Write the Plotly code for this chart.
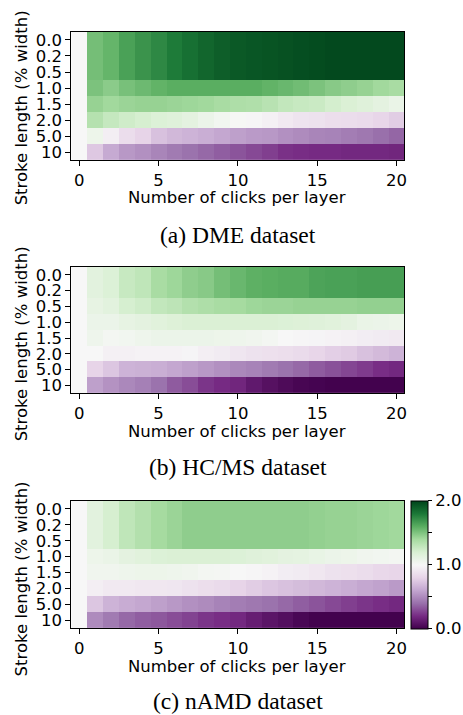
import plotly.graph_objects as go

# ---------------- data ----------------
clicks = list(range(21))
stroke_labels = ["0.0", "0.2", "0.5", "1.0", "1.5", "2.0", "5.0", "10"]
x_ticks = [0, 5, 10, 15, 20]
cbar_ticks = [0, 0.5, 1, 1.5, 2]
cbar_text = ["0.0", "", "1.0", "", "2.0"]
captions = ["(a) DME dataset", "(b) HC/MS dataset", "(c) nAMD dataset"]

dme_top = [1.0, 1.53, 1.57, 1.65, 1.70, 1.74, 1.79, 1.83, 1.87, 1.90, 1.92, 1.93, 1.94, 1.95, 1.96, 1.97, 1.98, 1.98, 1.98, 1.98, 1.98]
dme_z = [
    dme_top,
    dme_top,
    dme_top,
    [1.0, 1.51, 1.47, 1.52, 1.55, 1.58, 1.60, 1.60, 1.60, 1.60, 1.60, 1.60, 1.58, 1.56, 1.54, 1.51, 1.48, 1.46, 1.44, 1.41, 1.39],
    [1.0, 1.44, 1.41, 1.43, 1.44, 1.44, 1.43, 1.42, 1.41, 1.39, 1.37, 1.36, 1.33, 1.29, 1.27, 1.26, 1.22, 1.19, 1.16, 1.13, 1.09],
    [1.0, 1.34, 1.28, 1.24, 1.21, 1.18, 1.16, 1.13, 1.08, 1.04, 1.01, 0.99, 0.96, 0.92, 0.89, 0.88, 0.86, 0.85, 0.84, 0.81, 0.77],
    [1.0, 1.07, 0.95, 0.85, 0.80, 0.72, 0.68, 0.66, 0.64, 0.61, 0.58, 0.56, 0.55, 0.52, 0.50, 0.48, 0.47, 0.45, 0.43, 0.40, 0.37],
    [1.0, 0.75, 0.62, 0.55, 0.52, 0.48, 0.44, 0.41, 0.38, 0.35, 0.32, 0.29, 0.26, 0.22, 0.21, 0.20, 0.20, 0.19, 0.19, 0.19, 0.18],
]

hcms_top = [1.0, 1.14, 1.18, 1.27, 1.30, 1.39, 1.42, 1.46, 1.48, 1.53, 1.56, 1.59, 1.60, 1.61, 1.61, 1.64, 1.65, 1.65, 1.66, 1.66, 1.66]
hcms_z = [
    hcms_top,
    hcms_top,
    [1.0, 1.11, 1.14, 1.21, 1.24, 1.29, 1.31, 1.35, 1.37, 1.39, 1.40, 1.42, 1.43, 1.43, 1.44, 1.44, 1.44, 1.44, 1.45, 1.45, 1.45],
    [1.0, 1.08, 1.08, 1.11, 1.13, 1.15, 1.17, 1.19, 1.19, 1.19, 1.19, 1.19, 1.19, 1.18, 1.17, 1.16, 1.15, 1.13, 1.09, 1.08, 1.07],
    [1.0, 1.06, 1.03, 1.04, 1.06, 1.08, 1.08, 1.08, 1.08, 1.07, 1.06, 1.05, 1.03, 1.00, 0.99, 0.98, 0.97, 0.96, 0.94, 0.93, 0.92],
    [1.0, 1.00, 0.96, 0.96, 0.97, 0.97, 0.97, 0.98, 0.95, 0.93, 0.90, 0.88, 0.87, 0.86, 0.84, 0.81, 0.78, 0.76, 0.72, 0.69, 0.66],
    [1.0, 0.80, 0.74, 0.66, 0.65, 0.64, 0.61, 0.58, 0.55, 0.52, 0.49, 0.47, 0.44, 0.41, 0.38, 0.34, 0.31, 0.28, 0.25, 0.21, 0.19],
    [1.0, 0.58, 0.53, 0.49, 0.46, 0.41, 0.34, 0.30, 0.23, 0.20, 0.18, 0.12, 0.08, 0.05, 0.03, 0.02, 0.01, 0.01, 0.01, 0.01, 0.01],
]

namd_top = [1.0, 1.14, 1.21, 1.30, 1.35, 1.40, 1.43, 1.46, 1.46, 1.46, 1.46, 1.46, 1.46, 1.46, 1.46, 1.45, 1.44, 1.44, 1.43, 1.42, 1.41]
namd_z = [
    namd_top,
    namd_top,
    namd_top,
    [1.0, 1.07, 1.09, 1.13, 1.15, 1.18, 1.19, 1.19, 1.19, 1.19, 1.18, 1.16, 1.15, 1.13, 1.12, 1.10, 1.08, 1.07, 1.05, 1.04, 1.03],
    [1.0, 1.05, 1.05, 1.06, 1.07, 1.07, 1.06, 1.05, 1.03, 1.02, 1.00, 0.99, 0.97, 0.94, 0.93, 0.91, 0.88, 0.87, 0.85, 0.82, 0.81],
    [1.0, 0.95, 0.92, 0.92, 0.91, 0.91, 0.90, 0.88, 0.86, 0.84, 0.80, 0.77, 0.74, 0.72, 0.70, 0.68, 0.66, 0.64, 0.61, 0.59, 0.56],
    [1.0, 0.74, 0.66, 0.63, 0.61, 0.58, 0.55, 0.52, 0.50, 0.47, 0.45, 0.43, 0.41, 0.38, 0.35, 0.32, 0.29, 0.26, 0.23, 0.21, 0.19],
    [1.0, 0.50, 0.44, 0.38, 0.35, 0.33, 0.30, 0.27, 0.23, 0.21, 0.19, 0.14, 0.10, 0.07, 0.035, 0.01, 0.01, 0.01, 0.01, 0.01, 0.01],
]

panels = [dme_z, hcms_z, namd_z]

# ---------------- layout geometry (pixels) ----------------
W, H = 463, 715
x_left, x_right = 72, 408
plot_tops = [31, 267, 502]
plot_bottoms = [160, 394, 630]
ytitle_y = [107, 344, 580]
xtitle_y = [197, 432, 668]
caption_y = [235, 468, 703]

sans = "DejaVu Sans"
serif = "Liberation Serif"
fs = 16.5


def py(p):
    return 1 - p / H


fig = go.Figure()
layout = dict(
    width=W, height=H,
    margin=dict(l=0, r=0, t=0, b=0),
    paper_bgcolor="white", plot_bgcolor="white",
    showlegend=False,
    font=dict(family=sans, size=fs, color="black"),
)
annotations = []

for i, z in enumerate(panels):
    xa = "x" if i == 0 else f"x{i+1}"
    ya = "y" if i == 0 else f"y{i+1}"
    trace = go.Heatmap(
        z=z, x=clicks, y=list(range(len(stroke_labels))),
        zmin=0, zmax=2, colorscale="PRGn",
        xaxis=xa, yaxis=ya,
        showscale=(i == 2),
    )
    if i == 2:
        trace.colorbar = dict(
            x=415 / W, xanchor="left", xpad=0,
            y=py((plot_tops[2] + plot_bottoms[2]) / 2), yanchor="middle", ypad=0,
            len=plot_bottoms[2] - plot_tops[2], lenmode="pixels",
            thickness=17, thicknessmode="pixels",
            outlinewidth=1, outlinecolor="black",
            tickvals=cbar_ticks, ticktext=cbar_text,
            ticks="outside", ticklen=4, tickwidth=1, tickcolor="black",
            tickfont=dict(family=sans, size=fs, color="black"),
        )
    fig.add_trace(trace)

    xkey = "xaxis" if i == 0 else f"xaxis{i+1}"
    ykey = "yaxis" if i == 0 else f"yaxis{i+1}"
    layout[xkey] = dict(
        domain=[x_left / W, x_right / W], anchor=ya,
        range=[-0.5, 20.5], tickvals=x_ticks,
        ticks="outside", ticklen=5, tickwidth=1, tickcolor="black",
        showline=True, mirror=True, linecolor="black", linewidth=1,
        showgrid=False, zeroline=False,
        tickfont=dict(family=sans, size=fs, color="black"),
    )
    layout[ykey] = dict(
        domain=[py(plot_bottoms[i]), py(plot_tops[i])], anchor=xa,
        range=[len(stroke_labels) - 0.5, -0.5],
        tickvals=list(range(len(stroke_labels))), ticktext=stroke_labels,
        ticks="outside", ticklen=5, tickwidth=1, tickcolor="black",
        showline=True, mirror=True, linecolor="black", linewidth=1,
        showgrid=False, zeroline=False,
        tickfont=dict(family=sans, size=fs, color="black"),
    )
    annotations.append(dict(
        text="Stroke length (% width)", x=22 / W, y=py(ytitle_y[i]),
        xref="paper", yref="paper", textangle=-90, showarrow=False,
        xanchor="center", yanchor="middle",
        font=dict(family=sans, size=fs, color="black"),
    ))
    annotations.append(dict(
        text="Number of clicks per layer", x=239 / W, y=py(xtitle_y[i]),
        xref="paper", yref="paper", showarrow=False,
        xanchor="center", yanchor="middle",
        font=dict(family=sans, size=fs, color="black"),
    ))
    annotations.append(dict(
        text=captions[i], x=240 / W, y=py(caption_y[i]),
        xref="paper", yref="paper", showarrow=False,
        xanchor="center", yanchor="middle",
        font=dict(family=serif, size=23.5, color="black"),
    ))

layout["annotations"] = annotations
fig.update_layout(**layout)
fig.write_html("out.html")
